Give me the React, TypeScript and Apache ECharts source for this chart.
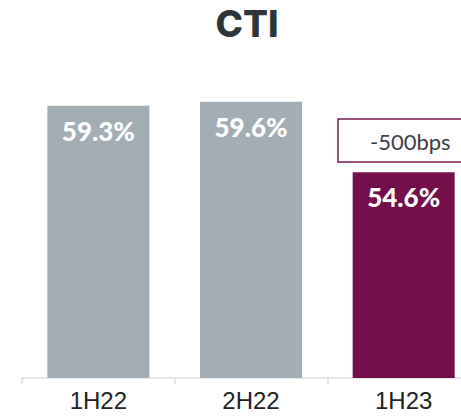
import React, { useEffect, useRef } from "react";
import * as echarts from "echarts";

const categories = ["1H22", "2H22", "1H23"];
const values = [59.3, 59.6, 54.6];
const barColors = ["#a3aeb4", "#a3aeb4", "#720f4a"];
const changeLabel = "-500bps";
const titleText = "CTI";

export default function App() {
  const ref = useRef<HTMLDivElement>(null);
  useEffect(() => {
    document.body.style.margin = "0";
    const chart = echarts.init(ref.current!, null, { renderer: "svg" });
    chart.setOption({
      animation: false,
      title: {
        text: titleText,
        left: 242,
        top: 0,
        textAlign: "center",
        textStyle: { fontFamily: "Inter", fontWeight: 800, fontSize: 37, color: "#2f3538" },
      },
      grid: { left: 22, width: 458, top: 96, height: 282, outerBoundsMode: "none", containLabel: false },
      xAxis: {
        type: "category",
        data: categories,
        axisLine: { lineStyle: { color: "#dcdfe1", width: 1.5 } },
        axisTick: { show: true, length: 6, lineStyle: { color: "#dcdfe1", width: 1.5 } },
        axisLabel: { fontFamily: "Liberation Sans", fontSize: 24, color: "#222", margin: 10 },
      },
      yAxis: {
        type: "value",
        min: 40,
        max: 60,
        show: false,
        splitLine: { show: false },
      },
      series: [
        {
          type: "bar",
          barWidth: 102,
          data: values.map((v, i) => ({ value: v, itemStyle: { color: barColors[i] } })),
          label: {
            show: true,
            position: "insideTop",
            distance: 12,
            formatter: (p: any) => p.value.toFixed(1) + "%",
            fontFamily: "Lato",
            fontWeight: 900,
            fontSize: 26,
            color: "#ffffff",
          },
        },
      ],
      graphic: [
        {
          type: "rect",
          shape: { x: 338, y: 119, width: 140, height: 43 },
          style: { fill: "#ffffff", stroke: "#7a1a50", lineWidth: 1.5 },
        },
        {
          type: "text",
          x: 370,
          y: 141,
          style: {
            text: changeLabel,
            fontFamily: "Lato",
            fontSize: 22,
            fill: "#3c4044",
            textVerticalAlign: "middle",
          },
        },
      ],
    });
    return () => chart.dispose();
  }, []);
  return <div ref={ref} style={{ width: 461, height: 420 }} />;
}
